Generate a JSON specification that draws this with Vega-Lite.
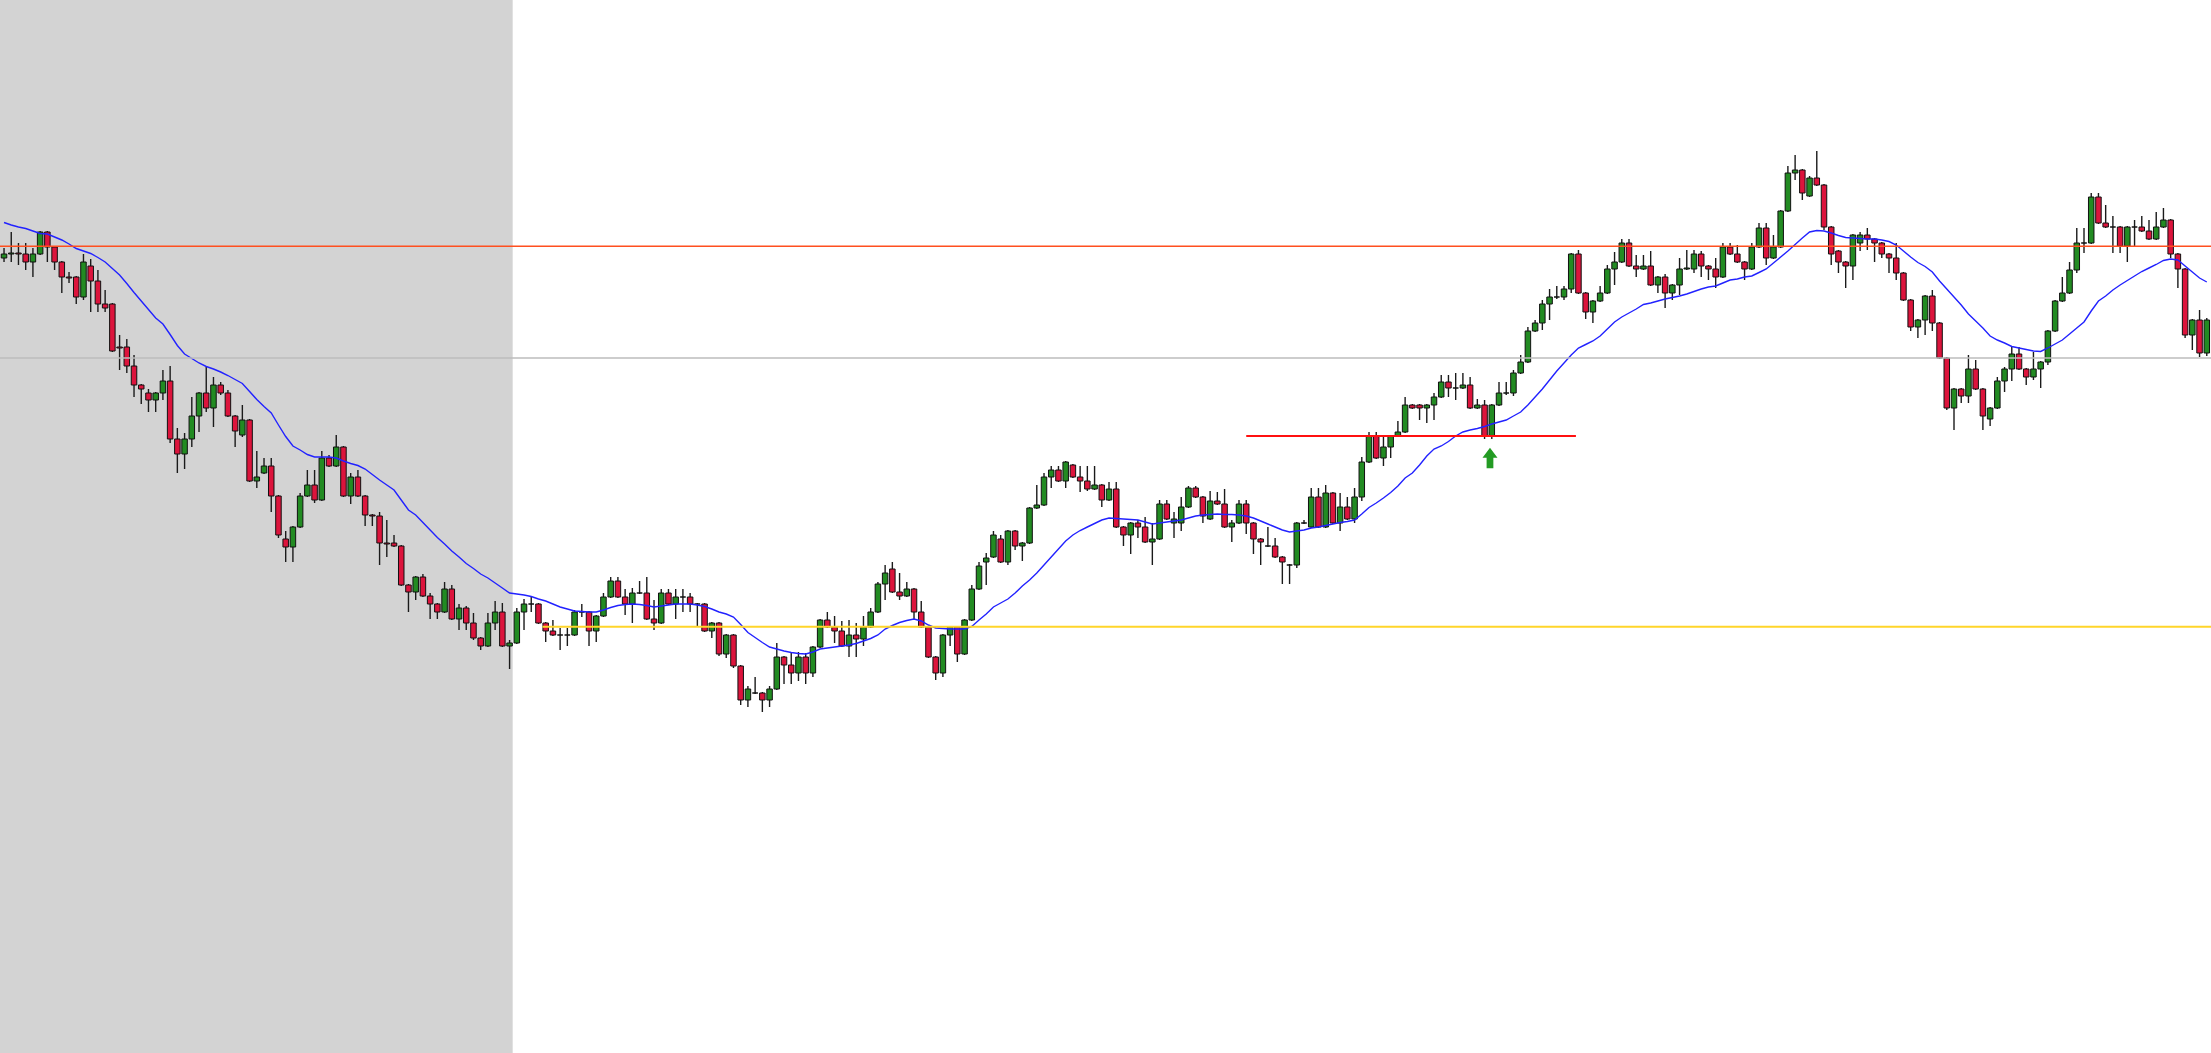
{
"$schema": "https://vega.github.io/schema/vega-lite/v6.json",
"width": 2201, "height": 1043,
"autosize": {"type": "none"},
"padding": 5,
"background": "white",
"config": {"view": {"stroke": null}},
"datasets": {
"bars": [
{"i":0,"o":795,"h":805,"l":791,"c":799,"m":830.5},
{"i":1,"o":799,"h":821,"l":791,"c":800,"m":828},
{"i":2,"o":800,"h":810,"l":788,"c":799,"m":826},
{"i":3,"o":799,"h":810,"l":783,"c":791,"m":824.5},
{"i":4,"o":791,"h":805,"l":776,"c":799,"m":822},
{"i":5,"o":799,"h":822,"l":798,"c":821,"m":819.5},
{"i":6,"o":821,"h":822,"l":791,"c":806,"m":819},
{"i":7,"o":806,"h":807,"l":783,"c":791,"m":816},
{"i":8,"o":791,"h":792,"l":760,"c":776,"m":813},
{"i":9,"o":776,"h":781,"l":770,"c":775,"m":809},
{"i":10,"o":776,"h":777,"l":749,"c":756,"m":804.5},
{"i":11,"o":756,"h":799,"l":753,"c":791,"m":802},
{"i":12,"o":787,"h":794,"l":741,"c":772,"m":799.5},
{"i":13,"o":772,"h":783,"l":741,"c":749,"m":795.5},
{"i":14,"o":749,"h":763,"l":741,"c":745,"m":791},
{"i":15,"o":749,"h":750,"l":701,"c":702,"m":784.5},
{"i":16,"o":706,"h":718,"l":683,"c":705,"m":778},
{"i":17,"o":706,"h":714,"l":680,"c":687,"m":769.5},
{"i":18,"o":687,"h":698,"l":656,"c":668,"m":760.5},
{"i":19,"o":668,"h":669,"l":649,"c":664,"m":752},
{"i":20,"o":660,"h":664,"l":641,"c":653,"m":743.5},
{"i":21,"o":653,"h":661,"l":641,"c":660,"m":735},
{"i":22,"o":660,"h":683,"l":653,"c":672,"m":729},
{"i":23,"o":672,"h":687,"l":610,"c":614,"m":718.5},
{"i":24,"o":614,"h":625,"l":580,"c":599,"m":707.5},
{"i":25,"o":599,"h":620,"l":584,"c":614,"m":699},
{"i":26,"o":614,"h":656,"l":606,"c":637,"m":694.5},
{"i":27,"o":637,"h":661,"l":621,"c":660,"m":690},
{"i":28,"o":660,"h":686,"l":641,"c":645,"m":686.5},
{"i":29,"o":645,"h":676,"l":626,"c":668,"m":684},
{"i":30,"o":668,"h":671,"l":658,"c":660,"m":681},
{"i":31,"o":660,"h":663,"l":636,"c":637,"m":677.5},
{"i":32,"o":637,"h":638,"l":606,"c":622,"m":673.5},
{"i":33,"o":618,"h":648,"l":616,"c":633,"m":669.5},
{"i":34,"o":633,"h":634,"l":571,"c":572,"m":661.5},
{"i":35,"o":572,"h":602,"l":565,"c":576,"m":653.5},
{"i":36,"o":580,"h":595,"l":579,"c":587,"m":646.5},
{"i":37,"o":587,"h":595,"l":541,"c":557,"m":640},
{"i":38,"o":557,"h":558,"l":515,"c":518,"m":628},
{"i":39,"o":514,"h":522,"l":491,"c":506,"m":616.5},
{"i":40,"o":506,"h":527,"l":491,"c":526,"m":607},
{"i":41,"o":526,"h":560,"l":525,"c":557,"m":603},
{"i":42,"o":557,"h":583,"l":556,"c":568,"m":598.5},
{"i":43,"o":568,"h":583,"l":550,"c":553,"m":596},
{"i":44,"o":553,"h":602,"l":552,"c":595,"m":596},
{"i":45,"o":595,"h":598,"l":586,"c":587,"m":596},
{"i":46,"o":587,"h":618,"l":586,"c":606,"m":595},
{"i":47,"o":606,"h":607,"l":556,"c":557,"m":592},
{"i":48,"o":557,"h":580,"l":549,"c":576,"m":589.5},
{"i":49,"o":576,"h":583,"l":556,"c":557,"m":587.5},
{"i":50,"o":557,"h":558,"l":527,"c":538,"m":584},
{"i":51,"o":538,"h":539,"l":527,"c":537,"m":578.5},
{"i":52,"o":537,"h":541,"l":488,"c":510,"m":573},
{"i":53,"o":510,"h":533,"l":496,"c":509,"m":568},
{"i":54,"o":510,"h":518,"l":506,"c":507,"m":563},
{"i":55,"o":507,"h":508,"l":467,"c":468,"m":553},
{"i":56,"o":468,"h":469,"l":441,"c":461,"m":543},
{"i":57,"o":461,"h":477,"l":453,"c":476,"m":538},
{"i":58,"o":476,"h":479,"l":456,"c":457,"m":530.5},
{"i":59,"o":457,"h":460,"l":434,"c":449,"m":523},
{"i":60,"o":449,"h":450,"l":434,"c":441,"m":515.5},
{"i":61,"o":441,"h":471,"l":440,"c":464,"m":509},
{"i":62,"o":464,"h":468,"l":433,"c":434,"m":502},
{"i":63,"o":434,"h":449,"l":423,"c":445,"m":496},
{"i":64,"o":445,"h":447,"l":423,"c":430,"m":489.5},
{"i":65,"o":430,"h":440,"l":413,"c":415,"m":484.5},
{"i":66,"o":415,"h":416,"l":403,"c":407,"m":479},
{"i":67,"o":407,"h":440,"l":406,"c":430,"m":475},
{"i":68,"o":430,"h":452,"l":423,"c":441,"m":470},
{"i":69,"o":441,"h":450,"l":406,"c":407,"m":465},
{"i":70,"o":407,"h":413,"l":384,"c":410,"m":460},
{"i":71,"o":410,"h":445,"l":409,"c":441,"m":459},
{"i":72,"o":441,"h":454,"l":423,"c":449,"m":458},
{"i":73,"o":449,"h":456,"l":441,"c":449,"m":456.5},
{"i":74,"o":449,"h":450,"l":429,"c":430,"m":454},
{"i":75,"o":430,"h":431,"l":411,"c":422,"m":452},
{"i":76,"o":422,"h":433,"l":417,"c":418,"m":449},
{"i":77,"o":418,"h":425,"l":403,"c":418,"m":446},
{"i":78,"o":418,"h":425,"l":407,"c":418,"m":444},
{"i":79,"o":418,"h":443,"l":417,"c":441,"m":442},
{"i":80,"o":441,"h":449,"l":436,"c":441,"m":441.5},
{"i":81,"o":441,"h":442,"l":407,"c":422,"m":441},
{"i":82,"o":422,"h":438,"l":411,"c":437,"m":441},
{"i":83,"o":437,"h":460,"l":436,"c":456,"m":443},
{"i":84,"o":456,"h":476,"l":455,"c":472,"m":445.5},
{"i":85,"o":472,"h":476,"l":455,"c":456,"m":447.5},
{"i":86,"o":456,"h":464,"l":438,"c":449,"m":448.5},
{"i":87,"o":449,"h":465,"l":430,"c":460,"m":449},
{"i":88,"o":460,"h":472,"l":459,"c":460,"m":448.5},
{"i":89,"o":460,"h":476,"l":433,"c":434,"m":447.5},
{"i":90,"o":434,"h":453,"l":423,"c":430,"m":446},
{"i":91,"o":430,"h":464,"l":429,"c":460,"m":447},
{"i":92,"o":460,"h":464,"l":448,"c":449,"m":448},
{"i":93,"o":449,"h":464,"l":434,"c":456,"m":449},
{"i":94,"o":456,"h":464,"l":441,"c":456,"m":449},
{"i":95,"o":456,"h":460,"l":441,"c":449,"m":449},
{"i":96,"o":449,"h":450,"l":426,"c":449,"m":448},
{"i":97,"o":449,"h":450,"l":421,"c":422,"m":446.5},
{"i":98,"o":422,"h":431,"l":415,"c":430,"m":444},
{"i":99,"o":430,"h":431,"l":397,"c":399,"m":441},
{"i":100,"o":399,"h":419,"l":395,"c":418,"m":439},
{"i":101,"o":418,"h":419,"l":385,"c":387,"m":436},
{"i":102,"o":387,"h":388,"l":348,"c":353,"m":428.5},
{"i":103,"o":353,"h":367,"l":346,"c":364,"m":420.5},
{"i":104,"o":360,"h":376,"l":359,"c":360,"m":415.5},
{"i":105,"o":360,"h":361,"l":341,"c":353,"m":410.5},
{"i":106,"o":353,"h":367,"l":346,"c":364,"m":406},
{"i":107,"o":364,"h":410,"l":363,"c":396,"m":404},
{"i":108,"o":396,"h":397,"l":369,"c":388,"m":402},
{"i":109,"o":388,"h":401,"l":369,"c":380,"m":400.5},
{"i":110,"o":380,"h":401,"l":372,"c":396,"m":399.5},
{"i":111,"o":396,"h":400,"l":369,"c":380,"m":399},
{"i":112,"o":380,"h":407,"l":376,"c":406,"m":401},
{"i":113,"o":406,"h":434,"l":405,"c":433,"m":404},
{"i":114,"o":433,"h":441,"l":425,"c":426,"m":405},
{"i":115,"o":426,"h":437,"l":410,"c":422,"m":406},
{"i":116,"o":422,"h":432,"l":406,"c":407,"m":407},
{"i":117,"o":407,"h":433,"l":396,"c":418,"m":408},
{"i":118,"o":418,"h":430,"l":396,"c":414,"m":409.5},
{"i":119,"o":414,"h":437,"l":407,"c":426,"m":412},
{"i":120,"o":426,"h":445,"l":425,"c":441,"m":414.5},
{"i":121,"o":441,"h":471,"l":440,"c":469,"m":418},
{"i":122,"o":469,"h":488,"l":453,"c":480,"m":424},
{"i":123,"o":484,"h":491,"l":460,"c":461,"m":427.5},
{"i":124,"o":461,"h":480,"l":453,"c":457,"m":430.5},
{"i":125,"o":457,"h":471,"l":456,"c":464,"m":432.5},
{"i":126,"o":464,"h":465,"l":433,"c":441,"m":434},
{"i":127,"o":441,"h":452,"l":425,"c":426,"m":432},
{"i":128,"o":426,"h":427,"l":395,"c":396,"m":428},
{"i":129,"o":396,"h":397,"l":373,"c":380,"m":425},
{"i":130,"o":380,"h":419,"l":376,"c":418,"m":424.5},
{"i":131,"o":418,"h":427,"l":407,"c":426,"m":424},
{"i":132,"o":426,"h":427,"l":391,"c":399,"m":424},
{"i":133,"o":399,"h":434,"l":398,"c":433,"m":424},
{"i":134,"o":433,"h":468,"l":432,"c":464,"m":426.5},
{"i":135,"o":464,"h":491,"l":463,"c":487,"m":433},
{"i":136,"o":491,"h":500,"l":468,"c":495,"m":439},
{"i":137,"o":496,"h":522,"l":495,"c":518,"m":446},
{"i":138,"o":514,"h":518,"l":490,"c":491,"m":450},
{"i":139,"o":491,"h":523,"l":488,"c":522,"m":454},
{"i":140,"o":522,"h":523,"l":503,"c":507,"m":460},
{"i":141,"o":507,"h":511,"l":492,"c":510,"m":467},
{"i":142,"o":510,"h":546,"l":509,"c":545,"m":473},
{"i":143,"o":545,"h":568,"l":544,"c":548,"m":480},
{"i":144,"o":548,"h":580,"l":547,"c":576,"m":488},
{"i":145,"o":576,"h":587,"l":565,"c":583,"m":496},
{"i":146,"o":583,"h":587,"l":571,"c":572,"m":504},
{"i":147,"o":572,"h":592,"l":565,"c":591,"m":512},
{"i":148,"o":588,"h":589,"l":575,"c":576,"m":518},
{"i":149,"o":576,"h":587,"l":561,"c":572,"m":522.5},
{"i":150,"o":572,"h":587,"l":562,"c":564,"m":526},
{"i":151,"o":564,"h":587,"l":563,"c":568,"m":529.5},
{"i":152,"o":568,"h":569,"l":546,"c":553,"m":533},
{"i":153,"o":553,"h":571,"l":552,"c":564,"m":535},
{"i":154,"o":564,"h":571,"l":525,"c":526,"m":534.5},
{"i":155,"o":526,"h":527,"l":507,"c":518,"m":534},
{"i":156,"o":518,"h":531,"l":499,"c":530,"m":533.5},
{"i":157,"o":530,"h":533,"l":515,"c":526,"m":533},
{"i":158,"o":526,"h":536,"l":510,"c":511,"m":531},
{"i":159,"o":511,"h":530,"l":488,"c":514,"m":529},
{"i":160,"o":514,"h":553,"l":513,"c":549,"m":530},
{"i":161,"o":549,"h":553,"l":533,"c":534,"m":531},
{"i":162,"o":530,"h":541,"l":515,"c":534,"m":532},
{"i":163,"o":530,"h":556,"l":522,"c":546,"m":533},
{"i":164,"o":546,"h":567,"l":545,"c":565,"m":535},
{"i":165,"o":565,"h":567,"l":555,"c":556,"m":537},
{"i":166,"o":556,"h":557,"l":530,"c":537,"m":538},
{"i":167,"o":534,"h":562,"l":533,"c":552,"m":538.5},
{"i":168,"o":552,"h":561,"l":548,"c":549,"m":539},
{"i":169,"o":549,"h":564,"l":525,"c":526,"m":538.5},
{"i":170,"o":526,"h":533,"l":511,"c":530,"m":538.5},
{"i":171,"o":530,"h":553,"l":529,"c":549,"m":538},
{"i":172,"o":549,"h":553,"l":519,"c":530,"m":537},
{"i":173,"o":530,"h":531,"l":499,"c":514,"m":535},
{"i":174,"o":514,"h":515,"l":488,"c":511,"m":532},
{"i":175,"o":507,"h":526,"l":506,"c":507,"m":529},
{"i":176,"o":507,"h":515,"l":495,"c":496,"m":526},
{"i":177,"o":496,"h":497,"l":469,"c":491,"m":523},
{"i":178,"o":488,"h":489,"l":469,"c":488,"m":521},
{"i":179,"o":488,"h":531,"l":485,"c":530,"m":522},
{"i":180,"o":530,"h":533,"l":529,"c":530,"m":523},
{"i":181,"o":526,"h":565,"l":525,"c":556,"m":525},
{"i":182,"o":556,"h":565,"l":525,"c":526,"m":526},
{"i":183,"o":526,"h":568,"l":525,"c":560,"m":527.5},
{"i":184,"o":560,"h":561,"l":529,"c":530,"m":529},
{"i":185,"o":530,"h":560,"l":522,"c":546,"m":530.5},
{"i":186,"o":546,"h":556,"l":533,"c":534,"m":531.5},
{"i":187,"o":534,"h":565,"l":530,"c":556,"m":533},
{"i":188,"o":556,"h":596,"l":552,"c":591,"m":539},
{"i":189,"o":591,"h":621,"l":590,"c":617,"m":545.5},
{"i":190,"o":617,"h":621,"l":594,"c":595,"m":550},
{"i":191,"o":595,"h":617,"l":587,"c":606,"m":555},
{"i":192,"o":606,"h":618,"l":595,"c":617,"m":560.5},
{"i":193,"o":617,"h":632,"l":616,"c":621,"m":567},
{"i":194,"o":621,"h":656,"l":620,"c":648,"m":575},
{"i":195,"o":648,"h":649,"l":644,"c":645,"m":580},
{"i":196,"o":648,"h":649,"l":633,"c":645,"m":588},
{"i":197,"o":645,"h":649,"l":630,"c":648,"m":597},
{"i":198,"o":648,"h":660,"l":633,"c":656,"m":604},
{"i":199,"o":656,"h":678,"l":655,"c":671,"m":607},
{"i":200,"o":671,"h":678,"l":656,"c":665,"m":611.5},
{"i":201,"o":665,"h":680,"l":653,"c":665,"m":617},
{"i":202,"o":665,"h":680,"l":664,"c":668,"m":621},
{"i":203,"o":668,"h":676,"l":644,"c":645,"m":623},
{"i":204,"o":645,"h":654,"l":644,"c":648,"m":624.5},
{"i":205,"o":648,"h":653,"l":614,"c":617,"m":626.5},
{"i":206,"o":617,"h":649,"l":614,"c":648,"m":629},
{"i":207,"o":648,"h":671,"l":647,"c":660,"m":631},
{"i":208,"o":660,"h":671,"l":658,"c":660,"m":633},
{"i":209,"o":660,"h":683,"l":657,"c":680,"m":637},
{"i":210,"o":680,"h":698,"l":679,"c":691,"m":641},
{"i":211,"o":691,"h":726,"l":690,"c":722,"m":648},
{"i":212,"o":722,"h":733,"l":721,"c":730,"m":656},
{"i":213,"o":730,"h":753,"l":723,"c":749,"m":664},
{"i":214,"o":749,"h":764,"l":733,"c":756,"m":673},
{"i":215,"o":756,"h":767,"l":754,"c":756,"m":682},
{"i":216,"o":756,"h":767,"l":753,"c":764,"m":690},
{"i":217,"o":764,"h":800,"l":760,"c":799,"m":698},
{"i":218,"o":799,"h":803,"l":759,"c":760,"m":705},
{"i":219,"o":760,"h":761,"l":734,"c":741,"m":708.5},
{"i":220,"o":741,"h":753,"l":730,"c":752,"m":712},
{"i":221,"o":752,"h":767,"l":751,"c":760,"m":717},
{"i":222,"o":760,"h":788,"l":759,"c":784,"m":724},
{"i":223,"o":784,"h":801,"l":768,"c":791,"m":731},
{"i":224,"o":791,"h":814,"l":790,"c":810,"m":736},
{"i":225,"o":810,"h":814,"l":786,"c":787,"m":740},
{"i":226,"o":787,"h":798,"l":776,"c":784,"m":744},
{"i":227,"o":784,"h":798,"l":783,"c":787,"m":748.5},
{"i":228,"o":787,"h":802,"l":767,"c":768,"m":750},
{"i":229,"o":768,"h":777,"l":760,"c":776,"m":752},
{"i":230,"o":776,"h":779,"l":745,"c":760,"m":754},
{"i":231,"o":760,"h":769,"l":753,"c":768,"m":755.5},
{"i":232,"o":768,"h":795,"l":758,"c":784,"m":757},
{"i":233,"o":784,"h":803,"l":783,"c":785,"m":759},
{"i":234,"o":784,"h":803,"l":780,"c":799,"m":761.5},
{"i":235,"o":799,"h":802,"l":776,"c":787,"m":764},
{"i":236,"o":787,"h":788,"l":773,"c":784,"m":766},
{"i":237,"o":784,"h":795,"l":765,"c":776,"m":767},
{"i":238,"o":776,"h":810,"l":775,"c":806,"m":770},
{"i":239,"o":806,"h":810,"l":798,"c":799,"m":773},
{"i":240,"o":799,"h":808,"l":790,"c":791,"m":774},
{"i":241,"o":791,"h":792,"l":773,"c":784,"m":776},
{"i":242,"o":784,"h":810,"l":783,"c":806,"m":777},
{"i":243,"o":806,"h":830,"l":805,"c":825,"m":780.5},
{"i":244,"o":825,"h":830,"l":788,"c":795,"m":784},
{"i":245,"o":795,"h":818,"l":794,"c":806,"m":790},
{"i":246,"o":806,"h":843,"l":805,"c":842,"m":796},
{"i":247,"o":842,"h":887,"l":841,"c":880,"m":802},
{"i":248,"o":880,"h":898,"l":873,"c":883,"m":808.5},
{"i":249,"o":883,"h":884,"l":853,"c":860,"m":815},
{"i":250,"o":857,"h":877,"l":856,"c":875,"m":821},
{"i":251,"o":875,"h":902,"l":867,"c":868,"m":822.5},
{"i":252,"o":868,"h":869,"l":823,"c":826,"m":822},
{"i":253,"o":826,"h":827,"l":788,"c":799,"m":820},
{"i":254,"o":802,"h":803,"l":780,"c":791,"m":817.5},
{"i":255,"o":791,"h":792,"l":765,"c":787,"m":815.5},
{"i":256,"o":787,"h":819,"l":773,"c":818,"m":815},
{"i":257,"o":810,"h":821,"l":802,"c":818,"m":814.5},
{"i":258,"o":818,"h":825,"l":803,"c":814,"m":814},
{"i":259,"o":814,"h":815,"l":791,"c":810,"m":814},
{"i":260,"o":810,"h":811,"l":795,"c":799,"m":813},
{"i":261,"o":799,"h":800,"l":780,"c":795,"m":811.5},
{"i":262,"o":795,"h":810,"l":773,"c":780,"m":808},
{"i":263,"o":780,"h":781,"l":752,"c":753,"m":802},
{"i":264,"o":753,"h":754,"l":722,"c":726,"m":796},
{"i":265,"o":726,"h":734,"l":715,"c":733,"m":790.5},
{"i":266,"o":733,"h":758,"l":718,"c":757,"m":786.5},
{"i":267,"o":757,"h":763,"l":722,"c":730,"m":781},
{"i":268,"o":730,"h":731,"l":694,"c":695,"m":772},
{"i":269,"o":695,"h":696,"l":643,"c":645,"m":764},
{"i":270,"o":645,"h":665,"l":623,"c":664,"m":756},
{"i":271,"o":664,"h":665,"l":650,"c":657,"m":748},
{"i":272,"o":657,"h":698,"l":650,"c":684,"m":739},
{"i":273,"o":684,"h":693,"l":663,"c":664,"m":732},
{"i":274,"o":664,"h":665,"l":623,"c":637,"m":725},
{"i":275,"o":634,"h":646,"l":627,"c":645,"m":717},
{"i":276,"o":645,"h":676,"l":644,"c":672,"m":713},
{"i":277,"o":672,"h":686,"l":661,"c":684,"m":710},
{"i":278,"o":684,"h":706,"l":672,"c":699,"m":706.5},
{"i":279,"o":699,"h":706,"l":683,"c":684,"m":705},
{"i":280,"o":684,"h":685,"l":668,"c":676,"m":703.5},
{"i":281,"o":676,"h":701,"l":673,"c":684,"m":702},
{"i":282,"o":684,"h":692,"l":665,"c":691,"m":701.5},
{"i":283,"o":691,"h":723,"l":688,"c":722,"m":705},
{"i":284,"o":722,"h":753,"l":721,"c":752,"m":709},
{"i":285,"o":752,"h":776,"l":751,"c":760,"m":713},
{"i":286,"o":760,"h":791,"l":759,"c":783,"m":719},
{"i":287,"o":783,"h":825,"l":780,"c":810,"m":725},
{"i":288,"o":810,"h":825,"l":800,"c":810,"m":731},
{"i":289,"o":810,"h":860,"l":809,"c":856,"m":742},
{"i":290,"o":856,"h":860,"l":829,"c":830,"m":752},
{"i":291,"o":830,"h":848,"l":825,"c":826,"m":757},
{"i":292,"o":826,"h":837,"l":800,"c":826,"m":763},
{"i":293,"o":826,"h":827,"l":800,"c":807,"m":768},
{"i":294,"o":807,"h":827,"l":791,"c":826,"m":772.5},
{"i":295,"o":826,"h":833,"l":807,"c":826,"m":777},
{"i":296,"o":826,"h":837,"l":821,"c":822,"m":781.5},
{"i":297,"o":822,"h":833,"l":813,"c":814,"m":785},
{"i":298,"o":814,"h":841,"l":813,"c":826,"m":788.5},
{"i":299,"o":826,"h":845,"l":825,"c":833,"m":792.5},
{"i":300,"o":833,"h":834,"l":795,"c":799,"m":794},
{"i":301,"o":799,"h":800,"l":765,"c":784,"m":793},
{"i":302,"o":784,"h":785,"l":715,"c":718,"m":787},
{"i":303,"o":718,"h":734,"l":703,"c":733,"m":781},
{"i":304,"o":733,"h":743,"l":696,"c":700,"m":775},
{"i":305,"o":700,"h":735,"l":697,"c":733,"m":771}
]
},
"layer": [
{
"data": {"values": [{"a": -1, "b": 70.43, "lo": -10, "hi": 1070}]},
"mark": {"type": "rect", "color": "#d3d3d3"},
"encoding": {
"x": {"field": "a", "type": "quantitative", "scale": {"domain": [0.827, 304.2], "nice": false, "zero": false}, "axis": null},
"x2": {"field": "b"},
"y": {"field": "lo", "type": "quantitative", "scale": {"domain": [5, 1048], "nice": false, "zero": false}, "axis": null},
"y2": {"field": "hi"}
}
},
{
"data": {"name": "bars"},
"mark": {"type": "rule", "color": "#1a1a1a", "strokeWidth": 1.4},
"encoding": {
"x": {"field": "i", "type": "quantitative", "scale": {"domain": [0.827, 304.2], "nice": false, "zero": false}, "axis": null},
"y": {"field": "l", "type": "quantitative", "scale": {"domain": [5, 1048], "nice": false, "zero": false}, "axis": null},
"y2": {"field": "h"}
}
},
{
"data": {"name": "bars"},
"mark": {"type": "bar", "size": 5.5, "stroke": "#111111", "strokeWidth": 1},
"encoding": {
"x": {"field": "i", "type": "quantitative", "scale": {"domain": [0.827, 304.2], "nice": false, "zero": false}, "axis": null},
"y": {"field": "o", "type": "quantitative", "scale": {"domain": [5, 1048], "nice": false, "zero": false}, "axis": null},
"y2": {"field": "c"},
"fill": {"condition": {"test": "datum.c > datum.o", "value": "#228b22"}, "value": "#dc143c"}
}
},
{
"data": {"name": "bars"},
"mark": {"type": "line", "color": "#2222ff", "strokeWidth": 1.4},
"encoding": {
"x": {"field": "i", "type": "quantitative", "scale": {"domain": [0.827, 304.2], "nice": false, "zero": false}, "axis": null},
"y": {"field": "m", "type": "quantitative", "scale": {"domain": [5, 1048], "nice": false, "zero": false}, "axis": null}
}
},
{
"data": {"values": [{"p": 806.7, "a": -1, "b": 306}, {"p": 695, "a": -1, "b": 306}]},
"mark": {"type": "rule", "strokeWidth": 1.5},
"encoding": {
"x": {"field": "a", "type": "quantitative", "scale": {"domain": [0.827, 304.2], "nice": false, "zero": false}, "axis": null},
"x2": {"field": "b"},
"y": {"field": "p", "type": "quantitative", "scale": {"domain": [5, 1048], "nice": false, "zero": false}, "axis": null},
"color": {"field": "p", "type": "nominal", "scale": {"domain": [806.7, 695], "range": ["#ff4f1f", "#bdbdbd"]}, "legend": null}
}
},
{
"data": {"values": [{"p": 426.3, "a": 74.55, "b": 306}]},
"mark": {"type": "rule", "color": "#ffd52a", "strokeWidth": 2},
"encoding": {
"x": {"field": "a", "type": "quantitative", "scale": {"domain": [0.827, 304.2], "nice": false, "zero": false}, "axis": null},
"x2": {"field": "b"},
"y": {"field": "p", "type": "quantitative", "scale": {"domain": [5, 1048], "nice": false, "zero": false}, "axis": null}
}
},
{
"data": {"values": [{"p": 617, "a": 172.0, "b": 217.65}]},
"mark": {"type": "rule", "color": "#ff1010", "strokeWidth": 2},
"encoding": {
"x": {"field": "a", "type": "quantitative", "scale": {"domain": [0.827, 304.2], "nice": false, "zero": false}, "axis": null},
"x2": {"field": "b"},
"y": {"field": "p", "type": "quantitative", "scale": {"domain": [5, 1048], "nice": false, "zero": false}, "axis": null}
}
},
{
"data": {"values": [{"i": 205.75, "p": 595}]},
"mark": {"type": "point", "filled": true, "opacity": 1, "color": "#239b23", "size": 225, "strokeWidth": 0,
"shape": "M0,-1.375 L1,-0.05 L0.45,-0.05 L0.45,1.375 L-0.45,1.375 L-0.45,-0.05 L-1,-0.05 Z"},
"encoding": {
"x": {"field": "i", "type": "quantitative", "scale": {"domain": [0.827, 304.2], "nice": false, "zero": false}, "axis": null},
"y": {"field": "p", "type": "quantitative", "scale": {"domain": [5, 1048], "nice": false, "zero": false}, "axis": null}
}
}
]
}
